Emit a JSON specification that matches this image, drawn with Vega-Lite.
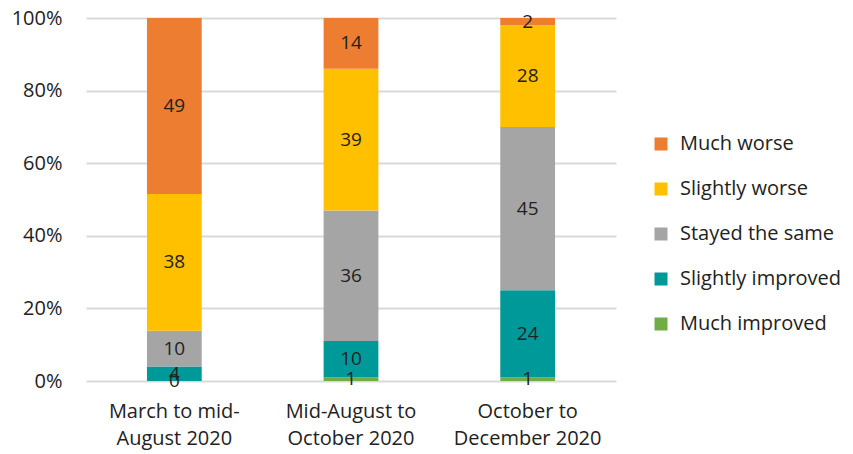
{
  "$schema": "https://vega.github.io/schema/vega-lite/v6.json",
  "autosize": {"type": "none"},
  "padding": {"left": 86, "top": 18, "right": 237, "bottom": 73},
  "width": 530,
  "height": 363,
  "config": {
    "view": {"stroke": null},
    "font": "Open Sans",
    "axis": {"labelFont": "Open Sans", "labelColor": "#222222"},
    "legend": {"labelFont": "Open Sans"}
  },
  "data": {
    "values": [
      {"period": "March to mid-August 2020", "response": "Much improved", "k": 1, "pct": 0},
      {"period": "March to mid-August 2020", "response": "Slightly improved", "k": 2, "pct": 4},
      {"period": "March to mid-August 2020", "response": "Stayed the same", "k": 3, "pct": 10},
      {"period": "March to mid-August 2020", "response": "Slightly worse", "k": 4, "pct": 38},
      {"period": "March to mid-August 2020", "response": "Much worse", "k": 5, "pct": 49},
      {"period": "Mid-August to October 2020", "response": "Much improved", "k": 1, "pct": 1},
      {"period": "Mid-August to October 2020", "response": "Slightly improved", "k": 2, "pct": 10},
      {"period": "Mid-August to October 2020", "response": "Stayed the same", "k": 3, "pct": 36},
      {"period": "Mid-August to October 2020", "response": "Slightly worse", "k": 4, "pct": 39},
      {"period": "Mid-August to October 2020", "response": "Much worse", "k": 5, "pct": 14},
      {"period": "October to December 2020", "response": "Much improved", "k": 1, "pct": 1},
      {"period": "October to December 2020", "response": "Slightly improved", "k": 2, "pct": 24},
      {"period": "October to December 2020", "response": "Stayed the same", "k": 3, "pct": 45},
      {"period": "October to December 2020", "response": "Slightly worse", "k": 4, "pct": 28},
      {"period": "October to December 2020", "response": "Much worse", "k": 5, "pct": 2}
    ]
  },
  "transform": [
    {"stack": "pct", "groupby": ["period"], "sort": [{"field": "k", "order": "ascending"}], "as": ["y0", "y1"], "offset": "normalize"},
    {"calculate": "(datum.y0 + datum.y1) / 2", "as": "ymid"}
  ],
  "encoding": {
    "x": {
      "field": "period", "type": "nominal", "sort": null,
      "scale": {"paddingInner": 0.69, "paddingOuter": 0.345},
      "axis": {
        "title": null, "labelAngle": 0, "domain": false, "ticks": false,
        "labelFontSize": 20, "labelPadding": 20, "labelLineHeight": 27, "labelBaseline": "top",
        "labelExpr": "datum.value == 'March to mid-August 2020' ? ['March to mid-', 'August 2020'] : datum.value == 'Mid-August to October 2020' ? ['Mid-August to', 'October 2020'] : ['October to', 'December 2020']"
      }
    }
  },
  "layer": [
    {
      "mark": {"type": "bar"},
      "encoding": {
        "y": {
          "field": "y0", "type": "quantitative",
          "scale": {"domain": [0, 1]},
          "axis": {
            "title": null, "format": "%", "values": [0, 0.2, 0.4, 0.6, 0.8, 1],
            "domain": false, "ticks": false, "labelFontSize": 20, "labelPadding": 24,
            "gridColor": "#d9d9d9", "gridWidth": 2
          }
        },
        "y2": {"field": "y1"},
        "color": {
          "field": "response", "type": "nominal",
          "scale": {
            "domain": ["Much worse", "Slightly worse", "Stayed the same", "Slightly improved", "Much improved"],
            "range": ["#ED7D31", "#FFC000", "#A5A5A5", "#009999", "#70AD47"]
          },
          "legend": {
            "title": null, "orient": "none", "legendX": 565, "legendY": 116,
            "symbolType": "square", "symbolSize": 169, "symbolStrokeWidth": 0,
            "labelFontSize": 20, "labelColor": "#222222", "labelOffset": 9, "labelLimit": 400, "rowPadding": 25
          }
        }
      }
    },
    {
      "mark": {"type": "text", "fontSize": 19, "color": "#222222", "baseline": "middle"},
      "encoding": {
        "y": {"field": "ymid", "type": "quantitative"},
        "text": {"field": "pct", "type": "quantitative"}
      }
    }
  ]
}
